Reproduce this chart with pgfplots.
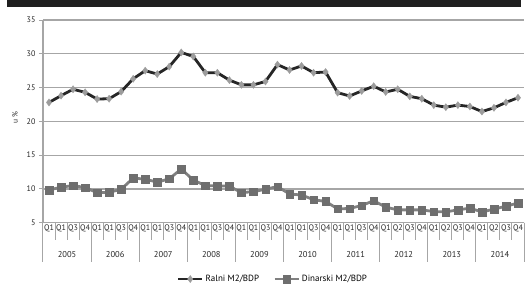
\documentclass[border=0pt]{standalone}
\usepackage{fontspec}
\setmainfont{PT Sans}
\usepackage{pgfplots}
\pgfplotsset{compat=1.18}
\definecolor{ralniline}{HTML}{262626}
\definecolor{ralnimark}{HTML}{9C9C9C}
\definecolor{dinline}{HTML}{808080}
\definecolor{dinmark}{HTML}{6E6E6E}
\definecolor{gridc}{HTML}{A6A6A6}
\begin{document}
\begin{tikzpicture}[x=1pt,y=1pt]
\useasboundingbox (0,0) rectangle (528,287);
\fill[black!88] (7,279.5) rectangle (521,287);
\begin{axis}[
  at={(43pt,64.3pt)}, anchor=south west,
  width=481pt, height=202.7pt, scale only axis,
  xmin=-0.5, xmax=39.5, ymin=5, ymax=35,
  ytick={5,10,...,35},
  xtick={0,...,39},
  xticklabels={Q1,Q1,Q3,Q4,Q1,Q1,Q3,Q4,Q1,Q1,Q3,Q4,Q1,Q1,Q3,Q4,Q1,Q1,Q3,Q4,Q1,Q1,Q3,Q4,Q1,Q1,Q3,Q4,Q1,Q2,Q3,Q4,Q1,Q2,Q3,Q4,Q1,Q2,Q3,Q4},
  axis lines=left, axis line style={-, gridc, line width=1.2pt},
  ymajorgrids, grid style={gridc, line width=1.2pt},
  tick align=outside, major tick length=4pt,
  xtick style={draw=none}, ytick style={gridc, line width=1pt},
  /pgf/number format/assume math mode=true,
  yticklabel style={font=\fontsize{8}{9}\selectfont, text=black!85},
  xticklabel style={font=\fontsize{8}{9}\selectfont, text=black!85, inner sep=0pt, yshift=2pt},
  clip=false,
  legend columns=2,
  legend style={draw=none, fill=none, at={(axis description cs:0.478,-0.278)}, anchor=center, font=\fontsize{9}{10}\selectfont, /tikz/every even column/.append style={column sep=12pt}},
  legend image code/.code={\draw[#1, mark repeat=2, mark phase=2] plot coordinates {(0pt,0pt) (12pt,0pt) (24pt,0pt)};},
]
\addplot[ralniline, line width=2.8pt, mark=diamond*, mark size=3.6pt, mark options={ralnimark, draw=ralnimark, line width=0.3pt}] coordinates {
(0,22.8) (1,23.8) (2,24.75) (3,24.3) (4,23.3) (5,23.35) (6,24.4) (7,26.3)
(8,27.5) (9,27.0) (10,28.1) (11,30.2) (12,29.6) (13,27.2) (14,27.2) (15,26.1)
(16,25.4) (17,25.4) (18,25.9) (19,28.4) (20,27.6) (21,28.2) (22,27.2) (23,27.3)
(24,24.25) (25,23.75) (26,24.5) (27,25.2) (28,24.35) (29,24.75) (30,23.7) (31,23.35)
(32,22.4) (33,22.1) (34,22.4) (35,22.2) (36,21.45) (37,22.0) (38,22.8) (39,23.5)
};
\addlegendentry{Ralni M2/BDP}
\addplot[dinline, line width=2.8pt, mark=square*, mark size=3.8pt, mark options={dinmark, draw=dinmark, line width=0.3pt}] coordinates {
(0,9.85) (1,10.25) (2,10.5) (3,10.2) (4,9.45) (5,9.5) (6,9.95) (7,11.6)
(8,11.45) (9,11.0) (10,11.5) (11,12.95) (12,11.3) (13,10.5) (14,10.45) (15,10.4)
(16,9.45) (17,9.6) (18,9.95) (19,10.35) (20,9.25) (21,9.1) (22,8.4) (23,8.15)
(24,7.05) (25,7.1) (26,7.55) (27,8.25) (28,7.3) (29,6.9) (30,6.9) (31,6.9)
(32,6.65) (33,6.6) (34,6.9) (35,7.15) (36,6.6) (37,7.0) (38,7.45) (39,7.9)
};
\addlegendentry{Dinarski M2/BDP}
\pgfplotsinvokeforeach{0,...,40}{\draw[gridc, line width=1pt] (axis cs:{#1-0.5},5) -- ([yshift=-17pt]axis cs:{#1-0.5},5);}
\pgfplotsinvokeforeach{0,4,...,40}{\draw[gridc, line width=1pt] (axis cs:{#1-0.5},5) -- ([yshift=-39pt]axis cs:{#1-0.5},5);}
\node[font=\fontsize{8.5}{10}\selectfont, text=black!85] at (axis cs:1.5,5) [yshift=-32pt] {2005};
\node[font=\fontsize{8.5}{10}\selectfont, text=black!85] at (axis cs:5.5,5) [yshift=-32pt] {2006};
\node[font=\fontsize{8.5}{10}\selectfont, text=black!85] at (axis cs:9.5,5) [yshift=-32pt] {2007};
\node[font=\fontsize{8.5}{10}\selectfont, text=black!85] at (axis cs:13.5,5) [yshift=-32pt] {2008};
\node[font=\fontsize{8.5}{10}\selectfont, text=black!85] at (axis cs:17.5,5) [yshift=-32pt] {2009};
\node[font=\fontsize{8.5}{10}\selectfont, text=black!85] at (axis cs:21.5,5) [yshift=-32pt] {2010};
\node[font=\fontsize{8.5}{10}\selectfont, text=black!85] at (axis cs:25.5,5) [yshift=-32pt] {2011};
\node[font=\fontsize{8.5}{10}\selectfont, text=black!85] at (axis cs:29.5,5) [yshift=-32pt] {2012};
\node[font=\fontsize{8.5}{10}\selectfont, text=black!85] at (axis cs:33.5,5) [yshift=-32pt] {2013};
\node[font=\fontsize{8.5}{10}\selectfont, text=black!85] at (axis cs:37.5,5) [yshift=-32pt] {2014};
\node[rotate=90, font=\fontsize{7.5}{8}\selectfont, text=black!85] at (axis description cs:-0.058,0.52) {u \%};
\end{axis}
\end{tikzpicture}
\end{document}
